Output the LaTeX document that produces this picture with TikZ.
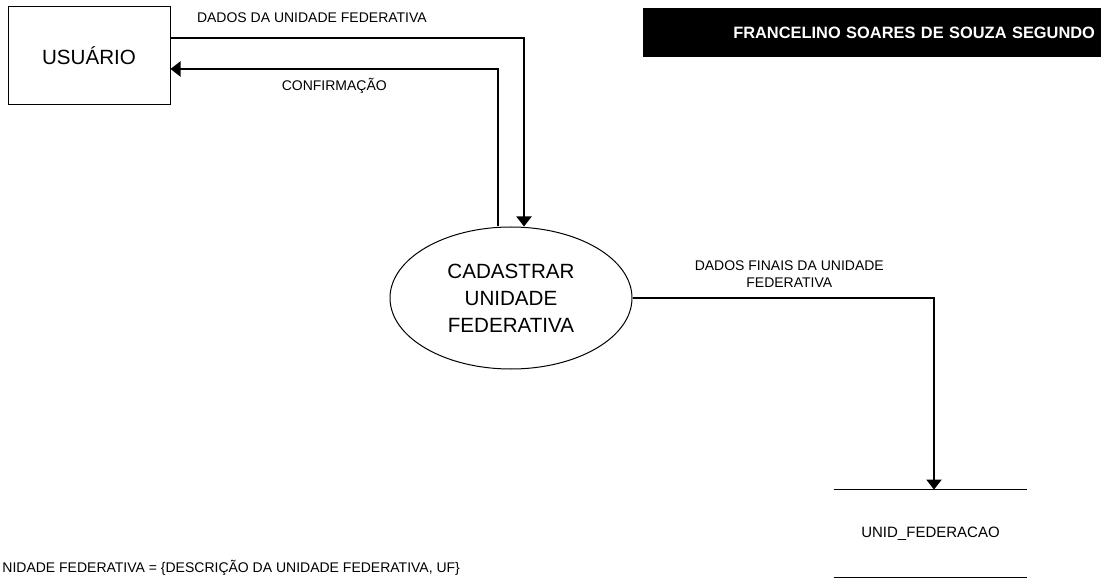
\documentclass[tikz,border=0pt]{standalone}
\usepackage{fontspec}
\setmainfont{Liberation Sans}
\usetikzlibrary{arrows.meta,positioning,shapes.geometric}

\begin{document}
\begin{tikzpicture}[x=0.5pt, y=-0.5pt, >={Triangle[length=5pt,width=7.5pt]},
  flow/.style={->, line width=1pt},
  lbl/.style={font=\fontsize{7}{8.5}\selectfont, align=center}]
  \useasboundingbox (0,0) rectangle (1101,587);
  \node[draw, line width=0.5pt, minimum width=81pt, minimum height=49pt,
        font=\fontsize{10.3}{12}\selectfont] (usuario) at (89,56) {USUÁRIO};
  \node[draw, ellipse, line width=0.5pt, minimum width=121pt, minimum height=71pt,
        inner sep=0pt, align=center, font=\fontsize{10.3}{13.5}\selectfont]
        (processo) at (511,298) {CADASTRAR\\UNIDADE\\FEDERATIVA};
  \node[minimum width=96.5pt, minimum height=43.5pt,
        font=\fontsize{7.5}{9}\selectfont] (store) at (930.5,533.5) {UNID\_FEDERACAO};
  \node[fill=black, text=white, minimum height=24.5pt, text width=223pt,
        inner xsep=3pt, align=right, font=\bfseries\fontsize{8.2}{10}\selectfont]
        (autor) at (872,32.5) {FRANCELINO SOARES DE SOUZA SEGUNDO};
  \node[lbl, anchor=west, inner sep=0pt] (dicionario) at (2,568)
        {NIDADE FEDERATIVA = \{DESCRIÇÃO DA UNIDADE FEDERATIVA, UF\}};
  \draw[line width=0.8pt] (store.north west) -- (store.north east);
  \draw[line width=0.8pt] (store.south west) -- (store.south east);
  \draw[flow] ([yshift=9pt]usuario.east) -| node[lbl, pos=0.2, above=4pt] {DADOS DA UNIDADE FEDERATIVA}
        ([xshift=6.5pt]processo.north);
  \draw[flow] ([xshift=-6.5pt]processo.north) |- node[lbl, pos=0.75, below=1pt] {CONFIRMAÇÃO}
        ([yshift=-6.5pt]usuario.east);
  \draw[flow] (processo.east) -| node[lbl, pos=0.26, above=1.5pt] {DADOS FINAIS DA UNIDADE\\FEDERATIVA}
        ([xshift=1.75pt]store.north);
\end{tikzpicture}
\end{document}
